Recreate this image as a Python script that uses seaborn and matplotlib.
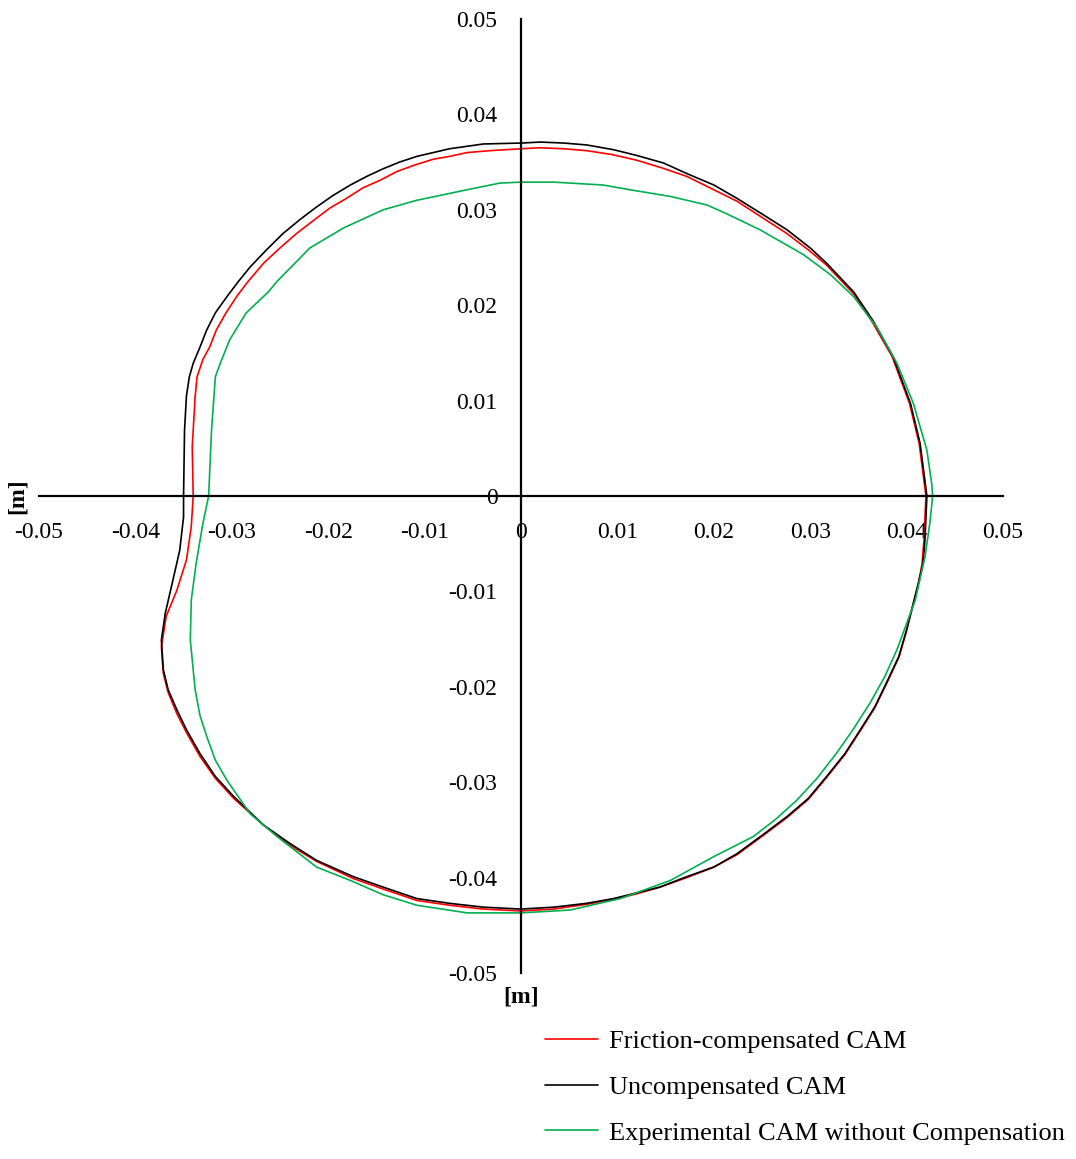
import pandas as pd
import seaborn as sns
import matplotlib.pyplot as plt

uncomp_x = [0.0421, 0.0414, 0.0404, 0.0386, 0.0365, 0.0345, 0.0317, 0.0300, 0.0276, 0.0251,
            0.0224, 0.0200, 0.0172, 0.0148, 0.0120, 0.0096, 0.0068, 0.0044, 0.0020, 0.0001,
            -0.0039, -0.0074, -0.0091, -0.0108, -0.0126, -0.0143, -0.0160, -0.0177, -0.0195, -0.0212,
            -0.0229, -0.0247, -0.0264, -0.0281, -0.0293, -0.0305, -0.0317, -0.0326, -0.0333, -0.0340,
            -0.0344, -0.0347, -0.0349, -0.0350,
            -0.0350, -0.0354, -0.0361, -0.0369, -0.0373, -0.0371, -0.0366, -0.0357, -0.0347, -0.0333,
            -0.0317, -0.0298, -0.0267, -0.0240, -0.0212, -0.0174, -0.0143, -0.0108, -0.0074, -0.0039,
            0.0000,
            0.0034, 0.0068, 0.0096, 0.0120, 0.0144, 0.0172, 0.0200, 0.0224, 0.0251, 0.0276,
            0.0298, 0.0317, 0.0336, 0.0352, 0.0367, 0.0379, 0.0392, 0.0400, 0.0412, 0.0417,
            0.0419, 0.0421]
uncomp_y = [0.0000, 0.0055, 0.0097, 0.0146, 0.0184, 0.0214, 0.0244, 0.0260, 0.0279, 0.0295,
            0.0312, 0.0326, 0.0338, 0.0349, 0.0357, 0.0363, 0.0368, 0.0370, 0.0371, 0.0370,
            0.0369, 0.0364, 0.0360, 0.0356, 0.0350, 0.0343, 0.0335, 0.0326, 0.0315, 0.0303,
            0.0290, 0.0275, 0.0258, 0.0240, 0.0225, 0.0209, 0.0192, 0.0174, 0.0156, 0.0139,
            0.0125, 0.0105, 0.0069, 0.0000,
            -0.0022, -0.0057, -0.0088, -0.0123, -0.0151, -0.0182, -0.0203, -0.0224, -0.0245, -0.0270,
            -0.0294, -0.0315, -0.0345, -0.0364, -0.0382, -0.0399, -0.0410, -0.0422, -0.0427, -0.0431,
            -0.0433,
            -0.0431, -0.0427, -0.0422, -0.0416, -0.0410, -0.0399, -0.0389, -0.0375, -0.0355, -0.0336,
            -0.0317, -0.0294, -0.0270, -0.0245, -0.0221, -0.0196, -0.0168, -0.0140, -0.0092, -0.0071,
            -0.0046, 0.0000]

fric_x = [0.0420, 0.0413, 0.0403, 0.0385, 0.0364, 0.0345, 0.0317, 0.0298, 0.0276, 0.0250,
          0.0224, 0.0198, 0.0172, 0.0146, 0.0120, 0.0094, 0.0068, 0.0044, 0.0020, 0.0000,
          -0.0032, -0.0056, -0.0074, -0.0091, -0.0110, -0.0129, -0.0146, -0.0164, -0.0181, -0.0198,
          -0.0215, -0.0233, -0.0250, -0.0267, -0.0283, -0.0295, -0.0306, -0.0316, -0.0323, -0.0330,
          -0.0336, -0.0338, -0.0341, -0.0340,
          -0.0342, -0.0347, -0.0357, -0.0368, -0.0373, -0.0371, -0.0366, -0.0357, -0.0347, -0.0333,
          -0.0317, -0.0298, -0.0267, -0.0240, -0.0212, -0.0174, -0.0143, -0.0108, -0.0074, -0.0039,
          0.0000,
          0.0034, 0.0068, 0.0096, 0.0120, 0.0144, 0.0172, 0.0200, 0.0224, 0.0251, 0.0276,
          0.0298, 0.0317, 0.0336, 0.0352, 0.0367, 0.0379, 0.0392, 0.0400, 0.0412, 0.0416,
          0.0418, 0.0420]
fric_y = [0.0000, 0.0055, 0.0097, 0.0146, 0.0183, 0.0212, 0.0242, 0.0258, 0.0275, 0.0292,
          0.0309, 0.0322, 0.0335, 0.0344, 0.0352, 0.0358, 0.0362, 0.0364, 0.0365, 0.0364,
          0.0362, 0.0360, 0.0356, 0.0353, 0.0347, 0.0340, 0.0331, 0.0323, 0.0312, 0.0302,
          0.0289, 0.0275, 0.0260, 0.0244, 0.0225, 0.0209, 0.0192, 0.0174, 0.0156, 0.0143,
          0.0125, 0.0104, 0.0052, 0.0000,
          -0.0032, -0.0067, -0.0099, -0.0126, -0.0158, -0.0186, -0.0206, -0.0228, -0.0248, -0.0273,
          -0.0296, -0.0317, -0.0345, -0.0366, -0.0383, -0.0401, -0.0412, -0.0424, -0.0429, -0.0433,
          -0.0435,
          -0.0433, -0.0428, -0.0423, -0.0417, -0.0410, -0.0400, -0.0389, -0.0376, -0.0356, -0.0337,
          -0.0318, -0.0295, -0.0271, -0.0246, -0.0222, -0.0197, -0.0169, -0.0141, -0.0093, -0.0071,
          -0.0046, 0.0000]

exp_x = [0.0427, 0.0426, 0.0421, 0.0407, 0.0390, 0.0369, 0.0345, 0.0321, 0.0293, 0.0248,
         0.0213, 0.0193, 0.0155, 0.0113, 0.0085, 0.0034, 0.0000, -0.0022, -0.0056, -0.0108,
         -0.0143, -0.0184, -0.0219, -0.0253, -0.0262, -0.0285, -0.0302, -0.0312, -0.0317,
         -0.0321, -0.0324,
         -0.0330, -0.0337, -0.0342, -0.0343, -0.0338, -0.0333, -0.0326, -0.0317, -0.0305,
         -0.0281, -0.0253, -0.0212, -0.0177, -0.0143, -0.0108, -0.0056, 0.0000,
         0.0051, 0.0103, 0.0155, 0.0200, 0.0241, 0.0264, 0.0286, 0.0307, 0.0327, 0.0345,
         0.0362, 0.0377, 0.0390, 0.0409, 0.0419, 0.0424, 0.0427]
exp_y = [0.0000, 0.0013, 0.0048, 0.0097, 0.0139, 0.0177, 0.0209, 0.0232, 0.0253, 0.0279,
         0.0296, 0.0305, 0.0314, 0.0321, 0.0326, 0.0329, 0.0329, 0.0328, 0.0321, 0.0310,
         0.0300, 0.0281, 0.0260, 0.0225, 0.0214, 0.0192, 0.0164, 0.0139, 0.0125,
         0.0069, 0.0000,
         -0.0029, -0.0071, -0.0109, -0.0151, -0.0203, -0.0230, -0.0252, -0.0277, -0.0298,
         -0.0333, -0.0357, -0.0389, -0.0403, -0.0418, -0.0429, -0.0437, -0.0437,
         -0.0434, -0.0422, -0.0403, -0.0378, -0.0357, -0.0339, -0.0319, -0.0296, -0.0270, -0.0244,
         -0.0217, -0.0190, -0.0161, -0.0109, -0.0064, -0.0029, 0.0000]

series_names = ['Friction-compensated CAM', 'Uncompensated CAM', 'Experimental CAM without Compensation']
series_colors = ['#FF0000', '#000000', '#00B050']
ticks = [-0.05, -0.04, -0.03, -0.02, -0.01, 0, 0.01, 0.02, 0.03, 0.04, 0.05]
tick_labels = ['-0.05', '-0.04', '-0.03', '-0.02', '-0.01', '0', '0.01', '0.02', '0.03', '0.04', '0.05']

frames = []
for name, xs, ys in zip(series_names, [fric_x, uncomp_x, exp_x], [fric_y, uncomp_y, exp_y]):
    frames.append(pd.DataFrame({'x': xs, 'y': ys, 'series': name}))
df = pd.concat(frames, ignore_index=True)

sns.set_style('white')
plt.rcParams['font.family'] = ['Liberation Serif', 'DejaVu Serif']
plt.rcParams['text.color'] = 'black'
plt.rcParams['xtick.color'] = 'black'
plt.rcParams['ytick.color'] = 'black'

fig = plt.figure(figsize=(10.76, 11.59), dpi=100)
ax = fig.add_axes([0.0362, 0.1605, 0.896, 0.8231])

sns.lineplot(data=df, x='x', y='y', hue='series', hue_order=series_names,
             palette=series_colors, sort=False, estimator=None, linewidth=1.2, ax=ax)

ax.set_xlim(-0.05, 0.05)
ax.set_ylim(-0.05, 0.05)
for side in ['left', 'bottom']:
    ax.spines[side].set_position('zero')
    ax.spines[side].set_linewidth(1.6)
    ax.spines[side].set_color('black')
ax.spines['top'].set_visible(False)
ax.spines['right'].set_visible(False)

ax.set_xticks(ticks)
ax.set_xticklabels(tick_labels)
ax.set_yticks(ticks)
ax.set_yticklabels(tick_labels)
ax.tick_params(axis='x', length=0, pad=19, labelsize=17)
ax.tick_params(axis='y', length=0, pad=17, labelsize=17)
ax.set_xlabel('')
ax.set_ylabel('')

ax.text(-0.0522, 0, '[m]', rotation=90, ha='center', va='center',
        fontsize=17, fontweight='bold', clip_on=False)
ax.text(0, -0.0525, '[m]', ha='center', va='center',
        fontsize=17, fontweight='bold', clip_on=False)

handles, labels = ax.get_legend_handles_labels()
ax.get_legend().remove()
fig.legend(handles, labels, loc='upper left', bbox_to_anchor=(0.5065, 0.1115),
           frameon=False, fontsize=19, borderpad=0, borderaxespad=0,
           handlelength=2.0, handletextpad=0.42, labelspacing=0.84)

fig.savefig('out.png', dpi=100)
